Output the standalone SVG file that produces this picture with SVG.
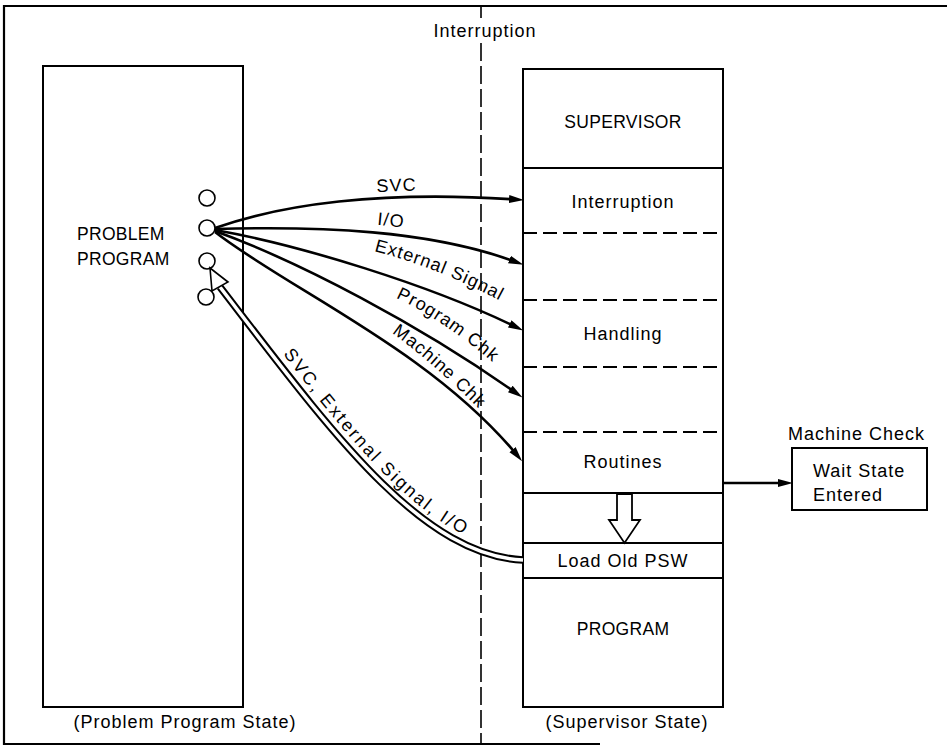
<svg xmlns="http://www.w3.org/2000/svg" width="947" height="746" viewBox="0 0 947 746">
<style>
text{font-family:"Liberation Sans",Arial,sans-serif;font-size:18px;letter-spacing:1px;fill:#000}
.c{text-anchor:middle}
.cap{font-size:17.5px;letter-spacing:0.3px}
.box{fill:#fff;stroke:#000;stroke-width:2}
.sep{stroke:#000;stroke-width:2}
.dsep{stroke:#000;stroke-width:2;stroke-dasharray:14 6}
.arr{fill:none;stroke:#000;stroke-width:2.6;marker-end:url(#ah)}
.port{fill:#fff;stroke:#000;stroke-width:1.6}
.frame{fill:none;stroke:#000;stroke-width:2.2}
</style>
<defs>
<marker id="ah" markerUnits="userSpaceOnUse" markerWidth="15" markerHeight="9" refX="7" refY="4" orient="auto"><path d="M0,0 L15,4 L0,8 z" fill="#000"/></marker>
<path id="pSVC" d="M215,228 C280,205 380,190 516,199.5"/>
<path id="pIO" d="M215,229 C320,226 430,230 516,262"/>
<path id="pEXT" d="M215,230 C300,245 430,285 516,327"/>
<path id="pPRG" d="M215,231 C300,262 420,325 516,393"/>
<path id="pMCH" d="M215,232 C290,290 430,350 517,455"/>
<path id="pRET" d="M220,287 C330,430 420,555 523,560"/>
<path id="tEXT" d="M374,251 Q440,268 506,304"/>
<path id="tPRG" d="M396,298 Q440,318 490,360"/>
<path id="tMCH" d="M392,333 Q430,360 481,411"/>
<path id="tRET" d="M227,281 C337,424 421,546 524,551"/>
</defs>

<g id="frame">
<path class="frame" d="M947,6 H4 V744 H600"/>
<path d="M481,6 V18 M481,43 V744" stroke="#000" stroke-width="1.6" stroke-dasharray="18 5" fill="none"/>
<text class="c" x="485" y="37">Interruption</text>
<text class="c" x="185" y="728">(Problem Program State)</text>
<text class="c" x="627" y="728">(Supervisor State)</text>
</g>

<g id="problem-program">
<rect class="box" x="43" y="66" width="200" height="641"/>
<text class="cap" x="77" y="240">PROBLEM</text>
<text class="cap" x="77" y="265">PROGRAM</text>
<circle class="port" cx="207" cy="198" r="8"/>
<circle class="port" cx="207" cy="228" r="8"/>
<circle class="port" cx="207" cy="261" r="8"/>
<circle class="port" cx="206" cy="297" r="8"/>
</g>

<g id="supervisor">
<rect class="box" x="523" y="69" width="200" height="638"/>
<line class="sep" x1="523" y1="168" x2="723" y2="168"/>
<line class="dsep" x1="523" y1="233" x2="723" y2="233"/>
<line class="dsep" x1="523" y1="300" x2="723" y2="300"/>
<line class="dsep" x1="523" y1="367" x2="723" y2="367"/>
<line class="dsep" x1="523" y1="432" x2="723" y2="432"/>
<line class="sep" x1="523" y1="493" x2="723" y2="493"/>
<line class="sep" x1="523" y1="543" x2="723" y2="543"/>
<line class="sep" x1="523" y1="578" x2="723" y2="578"/>
<text class="c cap" x="623" y="128">SUPERVISOR</text>
<text class="c" x="623" y="208">Interruption</text>
<text class="c" x="623" y="340">Handling</text>
<text class="c" x="623" y="468">Routines</text>
<text class="c" x="623" y="567">Load Old PSW</text>
<text class="c cap" x="623" y="635">PROGRAM</text>
<polygon points="617,494 617,520 609,520 624.5,543 640,520 632,520 632,494" fill="#fff" stroke="#000" stroke-width="1.8"/>
</g>

<g id="wait-state">
<text x="788" y="440">Machine Check</text>
<rect class="box" x="792" y="448" width="135" height="62"/>
<text x="813" y="477">Wait State</text>
<text x="813" y="501">Entered</text>
</g>

<g id="connectors">
<use href="#pSVC" class="arr"/>
<use href="#pIO" class="arr"/>
<use href="#pEXT" class="arr"/>
<use href="#pPRG" class="arr"/>
<use href="#pMCH" class="arr"/>
<line class="arr" x1="723" y1="483" x2="785" y2="483"/>
<use href="#pRET" fill="none" stroke="#000" stroke-width="7.5"/>
<use href="#pRET" fill="none" stroke="#fff" stroke-width="3.5"/>
<polygon points="210,268 228,282 212,291" fill="#fff" stroke="#000" stroke-width="1.6"/>
</g>

<g id="connector-labels">
<text transform="translate(0,-6)"><textPath href="#pSVC" startOffset="165">SVC</textPath></text>
<text transform="translate(0,-8)"><textPath href="#pIO" startOffset="162">I/O</textPath></text>
<text><textPath href="#tEXT">External Signal</textPath></text>
<text><textPath href="#tPRG">Program Chk</textPath></text>
<text><textPath href="#tMCH">Machine Chk</textPath></text>
<text><textPath href="#tRET" startOffset="92" textLength="258" lengthAdjust="spacing">SVC, External Signal, I/O</textPath></text>
</g>
</svg>
